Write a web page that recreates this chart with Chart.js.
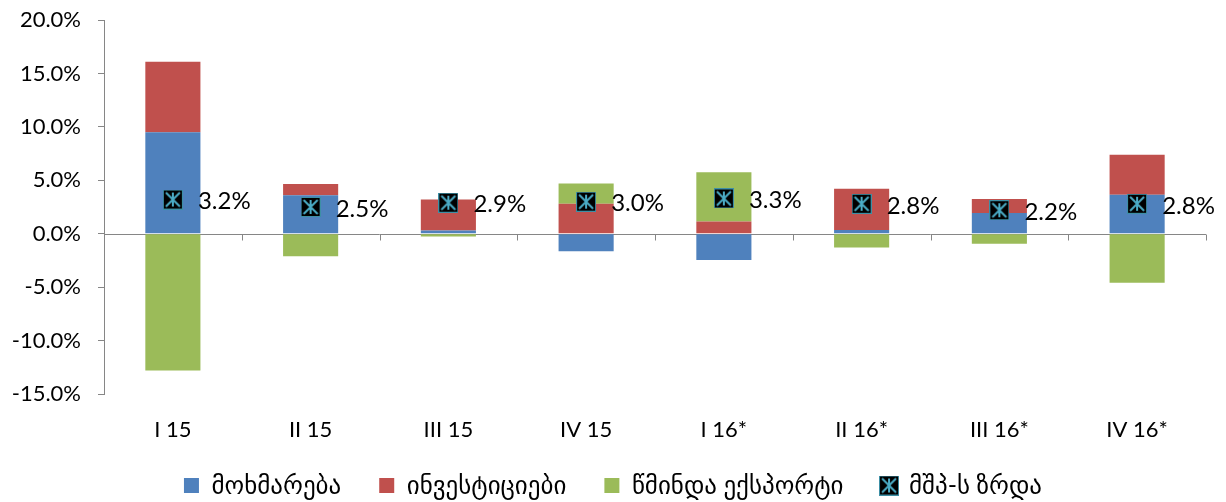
<!DOCTYPE html>
<html>
<head>
<meta charset="utf-8">
<script src="https://cdn.jsdelivr.net/npm/chart.js@4"></script>
<style>
  html, body { margin: 0; padding: 0; background: #fff; }
  #wrap { width: 1226px; height: 502px; }
</style>
</head>
<body>
<div id="wrap"><canvas id="mainChart" width="1226" height="502"></canvas></div>
<script>
// მონაცემები
const quarters = ["I 15", "II 15", "III 15", "IV 15", "I 16*", "II 16*", "III 16*", "IV 16*"];
const consumption = [9.5, 3.6, 0.3, -1.65, -2.45, 0.35, 1.95, 3.65];
const investment = [6.6, 1.05, 2.9, 2.8, 1.15, 3.85, 1.3, 3.75];
const netExport = [-12.8, -2.1, -0.25, 1.9, 4.6, -1.3, -0.95, -4.6];
const gdpGrowth = [3.2, 2.5, 2.9, 3.0, 3.3, 2.8, 2.2, 2.8];
const seriesNames = ["მოხმარება", "ინვესტიციები", "წმინდა ექსპორტი", "მშპ-ს ზრდა"];
const yTicks = [-15, -10, -5, 0, 5, 10, 15, 20];

const FONT = "Lato, 'DejaVu Sans', sans-serif";
const AXIS_GREY = "#868686";

// შავი კვადრატი ცისფერი ვარსკვლავით
function makeMarker(size) {
    const c = document.createElement("canvas");
    c.width = size;
    c.height = size;
    const g = c.getContext("2d");
    g.fillStyle = "#000";
    g.fillRect(0, 0, size, size);
    g.strokeStyle = "#3d8fa5";
    g.lineWidth = 1;
    g.strokeRect(0.5, 0.5, size - 1, size - 1);
    g.strokeStyle = "#4BACC6";
    g.lineWidth = 2;
    const m = 3;
    g.beginPath();
    g.moveTo(size / 2, m); g.lineTo(size / 2, size - m);
    g.moveTo(m, m); g.lineTo(size - m, size - m);
    g.moveTo(size - m, m); g.lineTo(m, size - m);
    g.stroke();
    return c;
}
const marker = makeMarker(20);

// ნულოვანი ღერძი და დანაყოფები
const zeroAxis = {
    id: "zeroAxis",
    beforeDatasetsDraw(chart) {
        const { ctx, chartArea } = chart;
        const y0 = Math.round(chart.scales.y.getPixelForValue(0)) + 0.5;
        const n = quarters.length;
        const step = (chartArea.right - chartArea.left) / n;
        ctx.save();
        ctx.strokeStyle = AXIS_GREY;
        ctx.lineWidth = 1;
        ctx.beginPath();
        ctx.moveTo(chartArea.left, y0);
        ctx.lineTo(chartArea.right, y0);
        for (let k = 1; k <= n; k++) {
            const x = Math.round(chartArea.left + step * k) + 0.5;
            ctx.moveTo(x, y0);
            ctx.lineTo(x, y0 + 6);
        }
        ctx.stroke();
        ctx.restore();
    },
};

// მშპ-ს ზრდის წარწერები
const growthLabels = {
    id: "growthLabels",
    afterDatasetsDraw(chart) {
        const { ctx } = chart;
        const meta = chart.getDatasetMeta(3);
        ctx.save();
        ctx.font = "24px " + FONT;
        ctx.fillStyle = "#000";
        ctx.textAlign = "left";
        ctx.textBaseline = "middle";
        meta.data.forEach((pt, i) => {
            ctx.fillText(gdpGrowth[i].toFixed(1) + "%", pt.x + 25, pt.y + 2);
        });
        ctx.restore();
    },
};

const ctx = document.getElementById("mainChart").getContext("2d");
new Chart(ctx, {
    type: "bar",
    data: {
        labels: quarters,
        datasets: [
            { label: seriesNames[0], data: consumption, backgroundColor: "#4F81BD", stack: "s", order: 1, pointStyle: "rect" },
            { label: seriesNames[1], data: investment, backgroundColor: "#C0504D", stack: "s", order: 1, pointStyle: "rect" },
            { label: seriesNames[2], data: netExport, backgroundColor: "#9BBB59", stack: "s", order: 1, pointStyle: "rect" },
            {
                type: "line",
                label: seriesNames[3],
                data: gdpGrowth,
                stack: "g",
                order: 0,
                showLine: false,
                pointStyle: marker,
                pointRadius: 10,
                pointHoverRadius: 10,
            },
        ],
    },
    options: {
        responsive: false,
        animation: false,
        devicePixelRatio: 1,
        layout: { padding: { top: 20, right: 20, left: 20, bottom: -6 } },
        datasets: { bar: { barPercentage: 0.4, categoryPercentage: 1 } },
        scales: {
            x: {
                stacked: true,
                grid: { display: false, drawTicks: false },
                border: { display: false },
                ticks: { color: "#000", font: { family: FONT, size: 22 }, padding: 23 },
                afterFit(scale) {
                    scale.height = 41;
                    // წარწერები ღერძის ყუთს სცდება, ამიტომ არ ვჭრით
                    scale._computeLabelArea = () => undefined;
                },
            },
            y: {
                stacked: true,
                min: -15,
                max: 20,
                afterBuildTicks(scale) {
                    scale.ticks = yTicks.map((v) => ({ value: v }));
                },
                afterFit(scale) {
                    scale.width = 84;
                    scale.paddingTop = 0;
                    scale.paddingBottom = 0;
                    scale._computeLabelArea = () => undefined;
                },
                grid: { drawOnChartArea: false, color: AXIS_GREY, tickLength: 6 },
                border: { display: true, color: AXIS_GREY },
                ticks: {
                    color: "#000",
                    font: { family: FONT, size: 22 },
                    padding: 17,
                    callback: (v) => v.toFixed(1) + "%",
                },
            },
        },
        plugins: {
            legend: {
                position: "bottom",
                labels: {
                    usePointStyle: true,
                    boxWidth: 15,
                    boxHeight: 15,
                    padding: 38,
                    color: "#000",
                    font: { family: FONT, size: 25 },
                    sort: (a, b) => a.datasetIndex - b.datasetIndex,
                },
            },
            tooltip: { enabled: false },
        },
    },
    plugins: [zeroAxis, growthLabels],
});
</script>
</body>
</html>
